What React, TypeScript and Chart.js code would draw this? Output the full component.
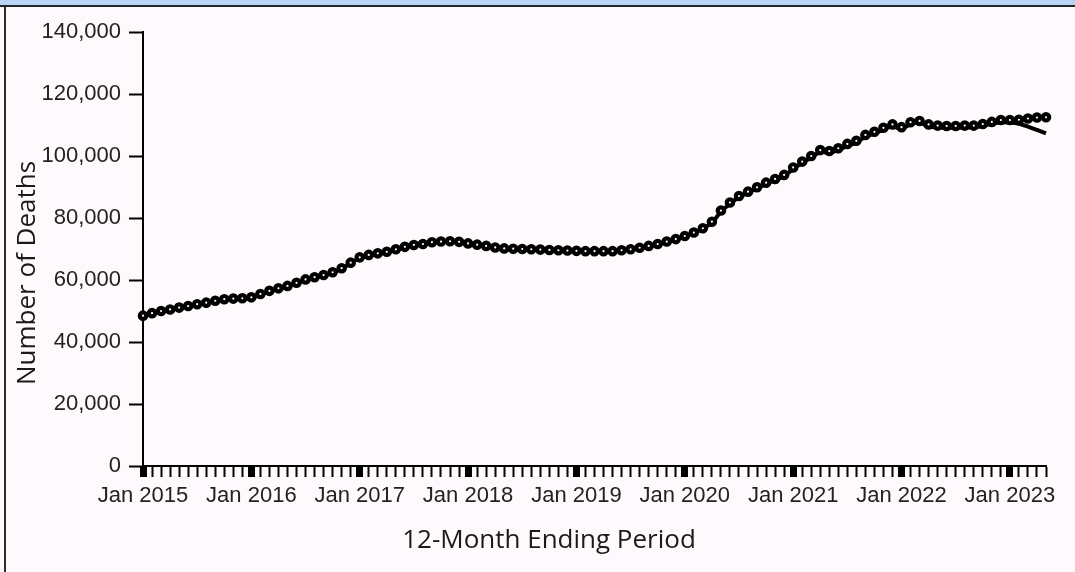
import React, { useEffect, useRef } from 'react';
import { Chart, registerables } from 'chart.js';

Chart.register(...registerables);

// ---- data ----
const MONTHS = ['Jan', 'Feb', 'Mar', 'Apr', 'May', 'Jun', 'Jul', 'Aug', 'Sep', 'Oct', 'Nov', 'Dec'];
const START_YEAR = 2015;
const MONTH_COUNT = 101; // Jan 2015 .. May 2023
const categories: string[] = Array.from(
  { length: MONTH_COUNT },
  (_, i) => `${MONTHS[i % 12]} ${START_YEAR + Math.floor(i / 12)}`
);

// Predicted provisional counts (12-month ending)
const predictedDeaths = [
  48500, 49300, 50000, 50500, 51100, 51600, 52200, 52700, 53300, 53800, 54000, 54100,
  54400, 55500, 56500, 57300, 58100, 59100, 60200, 60900, 61600, 62500, 63800, 65600,
  67300, 68100, 68600, 69100, 69900, 70700, 71300, 71600, 72200, 72400, 72500, 72300,
  71800, 71400, 71000, 70500, 70200, 70100, 70000, 69900, 69800, 69700, 69600, 69500,
  69400, 69300, 69300, 69300, 69300, 69600, 69900, 70400, 71000, 71600, 72400, 73200,
  74200, 75300, 76700, 78800, 82400, 85000, 87100, 88500, 89900, 91400, 92600, 93900,
  96300, 98200, 100000, 101900, 101600, 102500, 103900, 104900, 106800, 107800, 109100, 110200,
  109300, 110900, 111300, 110200, 109800, 109700, 109700, 109800, 109800, 110300, 111000, 111600,
  111600, 111700, 112100, 112400, 112500,
];

// Reported provisional counts
const reportedDeaths = [
  48300, 49100, 49800, 50300, 50900, 51400, 52000, 52500, 53100, 53600, 53800, 53900,
  54200, 55300, 56300, 57100, 57900, 58900, 60000, 60700, 61400, 62300, 63600, 65400,
  67100, 67900, 68400, 68900, 69700, 70500, 71100, 71400, 72000, 72200, 72300, 72100,
  71600, 71200, 70800, 70300, 70000, 69900, 69800, 69700, 69600, 69500, 69400, 69300,
  69200, 69100, 69100, 69100, 69100, 69400, 69700, 70200, 70800, 71400, 72200, 73000,
  74000, 75100, 76500, 78500, 82000, 84600, 86700, 88100, 89500, 91000, 92200, 93500,
  95800, 97700, 99500, 101300, 101000, 101900, 103300, 104300, 106200, 107200, 108500, 109600,
  108700, 110300, 110700, 109600, 109200, 109100, 109100, 109200, 109200, 109700, 110400, 110900,
  110800, 110400, 109500, 108400, 107300,
];

const Y_MIN = 0;
const Y_MAX = 140000;
const Y_STEP = 20000;

const X_TITLE = '12-Month Ending Period';
const Y_TITLE = 'Number of Deaths';

const axisTitles = {
  id: 'axisTitles',
  afterDraw(chart: any) {
    const { ctx, chartArea } = chart;
    ctx.save();
    ctx.fillStyle = '#1a1a1a';
    ctx.font = '26px "Open Sans"';
    ctx.textAlign = 'center';
    ctx.textBaseline = 'alphabetic';
    ctx.fillText(X_TITLE, chartArea.left + 406, chartArea.bottom + 82);
    ctx.translate(35, chartArea.top + 241);
    ctx.rotate(-Math.PI / 2);
    ctx.fillText(Y_TITLE, 0, 0);
    ctx.restore();
  },
};

export default function App() {
  const canvasRef = useRef<HTMLCanvasElement | null>(null);

  useEffect(() => {
    if (!canvasRef.current) return;
    const chart = new Chart(canvasRef.current, {
      type: 'line',
      data: {
        labels: categories,
        datasets: [
          {
            label: 'Predicted',
            data: predictedDeaths,
            showLine: false,
            pointRadius: 3.2,
            pointBorderWidth: 4.2,
            pointBorderColor: '#000',
            pointBackgroundColor: '#fff',
            borderColor: '#000',
          },
          {
            label: 'Reported',
            data: reportedDeaths,
            borderColor: '#000',
            borderWidth: 4,
            pointRadius: 0,
            tension: 0.3,
            fill: false,
          },
        ],
      },
      options: {
        responsive: false,
        animation: false,
        events: [],
        layout: { padding: { left: 0, top: 32, right: 29, bottom: 0 } },
        plugins: {
          legend: { display: false },
          tooltip: { enabled: false },
          title: { display: false },
        },
        scales: {
          x: {
            type: 'category',
            offset: false,
            afterFit(scale: any) {
              scale.height = 106;
            },
            border: { display: true, color: '#000', width: 2 },
            grid: {
              drawOnChartArea: false,
              drawTicks: true,
              tickLength: 11,
              tickColor: '#000',
              tickWidth: (ctx: any) => (ctx.index % 12 === 0 ? 7 : 2),
            },
            ticks: {
              autoSkip: false,
              maxRotation: 0,
              minRotation: 0,
              padding: 6,
              color: '#222',
              font: { family: '"Liberation Sans", Arial, sans-serif', size: 22 },
              callback: (_v: any, i: number) => (i % 12 === 0 ? categories[i] : ''),
            },
          },
          y: {
            min: Y_MIN,
            max: Y_MAX,
            afterFit(scale: any) {
              scale.width = 143;
            },
            border: { display: true, color: '#000', width: 2 },
            grid: {
              drawOnChartArea: false,
              drawTicks: true,
              tickLength: 14,
              tickColor: '#000',
              tickWidth: 2,
            },
            ticks: {
              stepSize: Y_STEP,
              padding: 8,
              color: '#222',
              font: { family: '"Liberation Sans", Arial, sans-serif', size: 22 },
              callback: (v: any) => Number(v).toLocaleString('en-US'),
            },
          },
        },
      },
      plugins: [axisTitles],
    });
    return () => chart.destroy();
  }, []);

  return (
    <div
      style={{
        position: 'fixed',
        left: 0,
        top: 0,
        width: 1075,
        height: 572,
        background: '#fdf9fc',
        overflow: 'hidden',
      }}
    >
      <div style={{ position: 'absolute', left: 0, top: 0, width: '100%', height: 5, background: '#b9d3f4' }} />
      <div style={{ position: 'absolute', left: 0, top: 5, width: '100%', height: 2, background: '#23262b' }} />
      <div style={{ position: 'absolute', left: 4, top: 7, bottom: 0, width: 2, background: '#2b2b2b' }} />
      <canvas
        ref={canvasRef}
        width={1075}
        height={572}
        style={{ position: 'absolute', left: 0, top: 0, display: 'block' }}
      />
    </div>
  );
}
